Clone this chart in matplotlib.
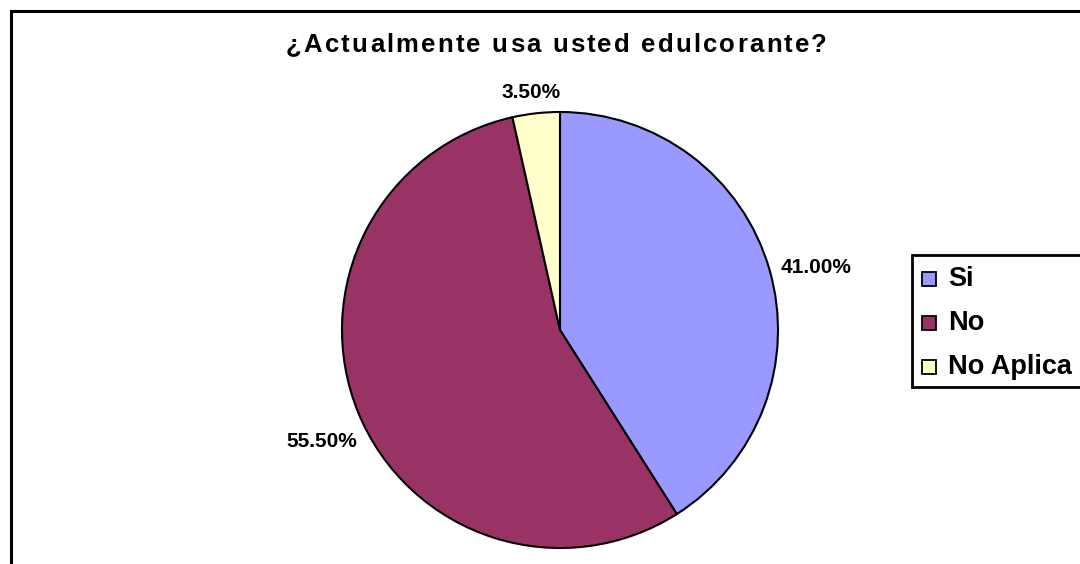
import numpy as np
import matplotlib.pyplot as plt
from matplotlib.patches import Rectangle

plt.rcParams['font.family'] = ['Liberation Sans', 'DejaVu Sans']

categories = ['Si', 'No', 'No Aplica']
shares = [41.0, 55.5, 3.5]
colors = ['#9999FF', '#993366', '#FFFFCC']
title = '¿Actualmente usa usted edulcorante?'

# where each percentage sits: distance from centre (in radii) and a small nudge in pixels
label_dist = [1.21, 1.21, 1.10]
label_nudge = [(3, -11), (5, -11), (-3, -1)]

W, H = 1080, 564
fig = plt.figure(figsize=(W / 100, H / 100), dpi=100)
renderer = fig.canvas.get_renderer()


def px(x, y):
    # pixel position measured from the top-left corner -> figure fraction
    return x / W, 1 - y / H


def text_width(s, size):
    t = fig.text(0, 0, s + 'x', fontsize=size, fontweight='bold')
    u = fig.text(0, 0, 'x', fontsize=size, fontweight='bold')
    w = t.get_window_extent(renderer).width - u.get_window_extent(renderer).width
    t.remove()
    u.remove()
    return w


def tracked_text(x, y, s, size, track):
    # draw a string one glyph at a time with extra letter spacing (pixels)
    for i, ch in enumerate(s):
        if ch == ' ':
            continue
        off = text_width(s[:i], size) + i * track if i else 0
        fig.text(*px(x + off, y), ch, fontsize=size, fontweight='bold', va='center', ha='left')


# outer chart frame (right and bottom edges run off the canvas)
fig.add_artist(plt.Line2D([11 / W, 11 / W], [0, 1 - 11 / H], color='black', lw=2.2,
                          transform=fig.transFigure))
fig.add_artist(plt.Line2D([11 / W, 1], [1 - 11 / H, 1 - 11 / H], color='black', lw=2.2,
                          transform=fig.transFigure))

# title, slightly spaced out to span 286..827 px
title_size = 18.5
natural = text_width(title, title_size)
track = (541 - natural) / (len(title) - 1)
tracked_text(286, 45, title, title_size, track)

cx, cy, r = 560, H - 330, 218
ax = fig.add_axes([(cx - r) / W, (cy - r) / H, 2 * r / W, 2 * r / H])
wedges, _ = ax.pie(shares, colors=colors, startangle=90, counterclock=False,
                   wedgeprops=dict(edgecolor='black', linewidth=1.5))
ax.set_xlim(-1, 1)
ax.set_ylim(-1, 1)
ax.set_aspect('auto')
ax.axis('off')

for w, val, d, nudge in zip(wedges, shares, label_dist, label_nudge):
    mid = np.deg2rad((w.theta1 + w.theta2) / 2)
    ax.annotate(f'{val:.2f}%', (d * np.cos(mid), d * np.sin(mid)), xytext=nudge,
                textcoords='offset pixels', ha='center', va='center',
                fontsize=15, fontweight='bold', annotation_clip=False)

# legend box, its right side runs off the canvas
fig.add_artist(Rectangle(px(912, 387), (W + 20 - 912) / W, 132 / H, transform=fig.transFigure,
                         facecolor='white', edgecolor='black', linewidth=2))
for i, (name, c) in enumerate(zip(categories, colors)):
    yc = 279 + i * 44
    fig.add_artist(Rectangle(px(922, yc + 7), 14 / W, 14 / H, transform=fig.transFigure,
                             facecolor=c, edgecolor='black', linewidth=1.3))
    fig.text(*px(948, yc), name, fontsize=19.5, fontweight='bold', va='center', ha='left')

fig.savefig('out.png', dpi=100)
